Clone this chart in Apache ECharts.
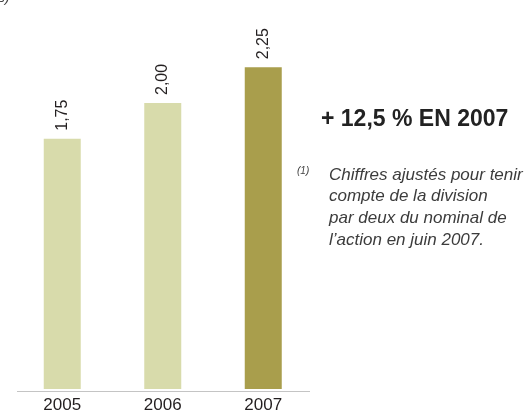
<!DOCTYPE html>
<html>
<head>
<meta charset="utf-8">
<script src="https://cdn.jsdelivr.net/npm/echarts@6/dist/echarts.min.js"></script>
<style>
  html, body { margin: 0; padding: 0; background: #fff; }
  #chart { width: 526px; height: 414px; }
</style>
</head>
<body>
<div id="chart"></div>
<script>
// dividende par action (euros)
const years = ['2005', '2006', '2007']
const dividends = [1.75, 2.00, 2.25]
const valueLabels = ['1,75', '2,00', '2,25']

const barLight = '#d8dbab'
const barDark = '#a99e4c'
const textDark = '#231f20'

const chart = echarts.init(document.getElementById('chart'))

const option = {
  animation: false,
  grid: { left: 12, width: 301.5, top: 31.5, bottom: 22.5 },
  xAxis: {
    type: 'category',
    data: years,
    axisLine: { show: false },
    axisTick: { show: false },
    axisLabel: {
      color: textDark,
      fontFamily: 'Liberation Sans, Arial, sans-serif',
      fontSize: 17,
      margin: 8
    }
  },
  yAxis: {
    type: 'value',
    min: 0,
    max: 2.5,
    show: false
  },
  series: [{
    type: 'bar',
    barWidth: 37,
    data: dividends.map((v, i) => ({
      value: v,
      itemStyle: { color: i === dividends.length - 1 ? barDark : barLight }
    })),
    label: {
      show: true,
      position: 'top',
      rotate: 90,
      align: 'left',
      verticalAlign: 'middle',
      distance: 8,
      color: textDark,
      fontFamily: 'Liberation Sans, Arial, sans-serif',
      fontSize: 16,
      formatter: p => valueLabels[p.dataIndex]
    }
  }],
  graphic: [
    {
      // ligne de base
      type: 'line',
      shape: { x1: 17, y1: 391.5, x2: 310, y2: 391.5 },
      style: { stroke: '#c4c4c4', lineWidth: 1 }
    },
    {
      type: 'text',
      left: -2, top: -9,
      style: {
        text: 's)',
        fontFamily: 'Liberation Sans, Arial, sans-serif',
        fontStyle: 'italic',
        fontSize: 14,
        fill: '#444'
      }
    },
    {
      type: 'text',
      x: 321, y: 120,
      style: {
        text: '+ 12,5 % EN 2007',
        fontFamily: 'Liberation Sans, Arial, sans-serif',
        fontWeight: 'bold',
        fontSize: 23,
        fill: '#222',
        verticalAlign: 'middle'
      }
    },
    {
      type: 'text',
      x: 297, y: 166,
      style: {
        text: '(1)',
        fontFamily: 'Liberation Sans, Arial, sans-serif',
        fontStyle: 'italic',
        fontSize: 10,
        fill: '#444'
      }
    },
    {
      type: 'text',
      x: 329, y: 164,
      style: {
        text: 'Chiffres ajustés pour tenir\ncompte de la division\npar deux du nominal de\nl\u2019action en juin 2007.',
        fontFamily: 'Liberation Sans, Arial, sans-serif',
        fontStyle: 'italic',
        fontSize: 17,
        lineHeight: 21.7,
        fill: '#3c3c3c'
      }
    }
  ]
}

chart.setOption(option)
</script>
</body>
</html>
